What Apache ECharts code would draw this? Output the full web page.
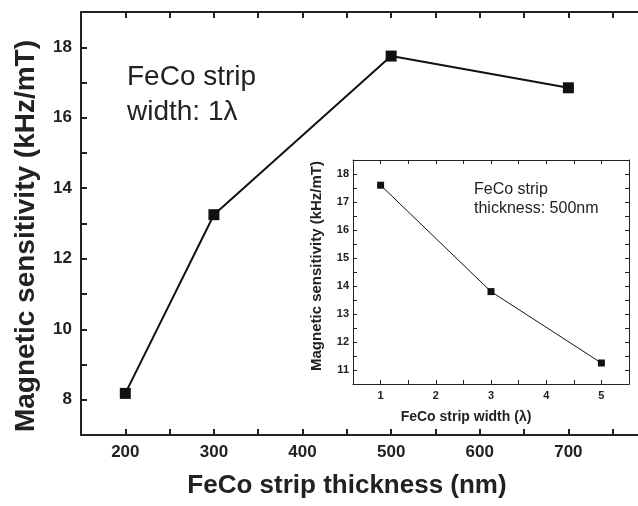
<!DOCTYPE html>
<html>
<head>
<meta charset="utf-8">
<script src="https://cdn.jsdelivr.net/npm/echarts@6/dist/echarts.min.js"></script>
<style>
  html, body { margin: 0; padding: 0; background: #fff; }
  #chart { width: 638px; height: 506px; }
</style>
</head>
<body>
<div id="chart"></div>
<script>
// main plot: sensitivity vs strip thickness
var thickness = [200, 300, 500, 700];
var sensByThickness = [8.18, 13.25, 17.75, 16.85];
// inset: sensitivity vs strip width
var stripWidth = [1, 3, 5];
var sensByWidth = [17.6, 13.8, 11.25];

var ink = '#222';
var font = 'Liberation Sans, Arial, sans-serif';

var myChart = echarts.init(document.getElementById('chart'));

function pairs(xs, ys) {
    return xs.map(function (x, i) { return [x, ys[i]]; });
}

var option = {
    backgroundColor: '#fff',
    animation: false,
    grid: [
        { left: 81, top: 12, width: 576, height: 423, outerBoundsMode: 'none' },
        { left: 353, top: 160, width: 276, height: 224, outerBoundsMode: 'none', show: true, backgroundColor: '#fff', borderWidth: 0, z: 5 }
    ],
    xAxis: [
        {
            gridIndex: 0, type: 'value', min: 150, max: 800, interval: 50,
            axisLine: { lineStyle: { color: ink, width: 2 } },
            axisTick: { inside: true, length: 6, lineStyle: { color: ink, width: 2 } },
            axisLabel: {
                color: ink, fontFamily: font, fontWeight: 'bold', fontSize: 17, margin: 9,
                formatter: function (v) { return v % 100 === 0 && v < 800 ? v : ''; }
            },
            splitLine: { show: false }
        },
        {
            gridIndex: 0, type: 'value', position: 'top', min: 150, max: 800, interval: 50,
            axisLine: { lineStyle: { color: ink, width: 2 } },
            axisTick: { inside: true, length: 6, lineStyle: { color: ink, width: 2 } },
            axisLabel: { show: false },
            splitLine: { show: false }
        },
        {
            gridIndex: 1, type: 'value', min: 0.5, max: 5.5, interval: 0.5, z: 6,
            axisLine: { lineStyle: { color: ink, width: 1 } },
            axisTick: { inside: true, length: 4, lineStyle: { color: ink } },
            axisLabel: {
                color: ink, fontFamily: font, fontWeight: 'bold', fontSize: 11, margin: 6,
                formatter: function (v) { return Number.isInteger(v) && v >= 1 && v <= 5 ? v : ''; }
            },
            splitLine: { show: false }
        },
        {
            gridIndex: 1, type: 'value', position: 'top', min: 0.5, max: 5.5, interval: 0.5, z: 6,
            axisLine: { lineStyle: { color: ink, width: 1 } },
            axisTick: { inside: true, length: 4, lineStyle: { color: ink } },
            axisLabel: { show: false },
            splitLine: { show: false }
        }
    ],
    yAxis: [
        {
            gridIndex: 0, type: 'value', min: 7, max: 19, interval: 1,
            axisLine: { show: true, lineStyle: { color: ink, width: 2 } },
            axisTick: { show: true, inside: true, length: 6, lineStyle: { color: ink, width: 2 } },
            axisLabel: {
                color: ink, fontFamily: font, fontWeight: 'bold', fontSize: 17, margin: 9,
                formatter: function (v) { return v % 2 === 0 ? v : ''; }
            },
            splitLine: { show: false }
        },
        {
            gridIndex: 1, type: 'value', min: 10.5, max: 18.5, interval: 0.5, z: 6,
            axisLine: { show: true, lineStyle: { color: ink, width: 1 } },
            axisTick: { show: true, inside: true, length: 4, lineStyle: { color: ink } },
            axisLabel: {
                color: ink, fontFamily: font, fontWeight: 'bold', fontSize: 11, margin: 4,
                formatter: function (v) { return Number.isInteger(v) ? v : ''; }
            },
            splitLine: { show: false }
        },
        {
            gridIndex: 1, type: 'value', position: 'right', min: 10.5, max: 18.5, interval: 0.5, z: 6,
            axisLine: { show: true, lineStyle: { color: ink, width: 1 } },
            axisTick: { show: true, inside: true, length: 4, lineStyle: { color: ink } },
            axisLabel: { show: false },
            splitLine: { show: false }
        }
    ],
    series: [
        {
            type: 'line', xAxisIndex: 0, yAxisIndex: 0,
            data: pairs(thickness, sensByThickness),
            symbol: 'rect', symbolSize: 11,
            itemStyle: { color: '#111' },
            lineStyle: { color: '#111', width: 2 }
        },
        {
            type: 'line', xAxisIndex: 2, yAxisIndex: 1, z: 7,
            data: pairs(stripWidth, sensByWidth),
            symbol: 'rect', symbolSize: 7,
            itemStyle: { color: '#111' },
            lineStyle: { color: '#111', width: 1 }
        }
    ],
    graphic: [
        {
            type: 'text', x: 347, y: 486,
            style: { text: 'FeCo strip thickness (nm)', fill: ink, font: 'bold 26px ' + font, textAlign: 'center', textVerticalAlign: 'middle' }
        },
        {
            type: 'text', x: 26, y: 236, rotation: Math.PI / 2,
            style: { text: 'Magnetic sensitivity (kHz/mT)', fill: ink, font: 'bold 28px ' + font, textAlign: 'center', textVerticalAlign: 'middle' }
        },
        {
            type: 'text', x: 127, y: 60,
            style: { text: 'FeCo strip\nwidth: 1λ', fill: ink, font: '28px ' + font, lineHeight: 35 }
        },
        {
            type: 'text', x: 466, y: 417, z: 10,
            style: { text: 'FeCo strip width (λ)', fill: ink, font: 'bold 14px ' + font, textAlign: 'center', textVerticalAlign: 'middle' }
        },
        {
            type: 'text', x: 317, y: 266, rotation: Math.PI / 2, z: 10,
            style: { text: 'Magnetic sensitivity (kHz/mT)', fill: ink, font: 'bold 15px ' + font, textAlign: 'center', textVerticalAlign: 'middle' }
        },
        {
            type: 'text', x: 474, y: 180, z: 10,
            style: { text: 'FeCo strip\nthickness: 500nm', fill: ink, font: '16px ' + font, lineHeight: 19 }
        }
    ]
};

myChart.setOption(option);
</script>
</body>
</html>
